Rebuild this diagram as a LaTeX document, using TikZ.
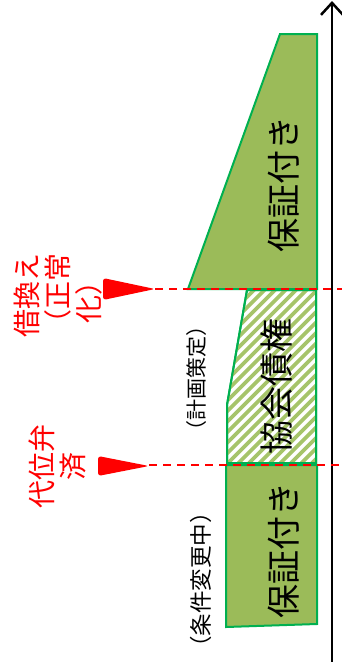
\documentclass[tikz,border=0pt]{standalone}
\usepackage{fontspec}
\newfontfamily\jp{Noto Sans CJK JP}
\usetikzlibrary{arrows.meta}
\definecolor{olivefill}{HTML}{9BBB59}
\definecolor{hatchgreen}{HTML}{A6C46A}
\definecolor{edgegreen}{HTML}{00B050}
\definecolor{markred}{HTML}{FF0000}
\tikzset{
  block/.style={fill=olivefill, draw=edgegreen, line width=2pt, line join=miter},
  hatchbox/.style={fill=white, draw=edgegreen, line width=2pt},
  bigtext/.style={rotate=90, inner sep=0pt, font=\jp\fontsize{34}{40}\selectfont},
  notetext/.style={rotate=90, inner sep=0pt, font=\jp\fontsize{21}{24}\selectfont},
  redtext/.style={rotate=90, inner sep=0pt, align=center, text=markred, font=\jp\fontsize{28}{31}\selectfont},
  reddash/.style={draw=markred, line width=2pt, dash pattern=on 8pt off 6pt},
  redtri/.style={fill=markred, rounded corners=3pt},
  axisline/.style={line width=2.5pt, -{Straight Barb[length=12pt,width=22pt,line width=2.5pt]}}
}
\begin{document}
\begin{tikzpicture}[x=1pt,y=-1pt]
\useasboundingbox (0,0) rectangle (342,662);
% top trapezoid
\draw[block] (280,34) -- (317,34) -- (317,289) -- (188,289) -- cycle;
% hatched block
\path[hatchbox] (247,290) -- (316,290) -- (316,463) -- (227,463) -- (227,405) -- cycle;
\begin{scope}
  \clip (247,290) -- (316,290) -- (316,463) -- (227,463) -- (227,405) -- cycle;
  \foreach \k in {0,...,30} {
    \draw[hatchgreen, line width=3.8pt] (60+\k*10.5,463) -- (234+\k*10.5,289);
  }
\end{scope}
\draw[edgegreen, line width=2pt] (247,290) -- (316,290) -- (316,463) -- (227,463) -- (227,405) -- cycle;
% bottom block
\draw[block] (226,465) -- (317,465) -- (317,624) -- (226,627) -- cycle;
% axis
\coordinate (axb) at (332,662);
\coordinate (axt) at (332,1);
\draw[axisline] (axb) -- (axt);
% markers
\coordinate (t1a) at (103,278);
\coordinate (t1b) at (103,300);
\coordinate (t1c) at (155,289);
\coordinate (d1) at (342,289);
\fill[redtri] (t1a) -- (t1c) -- (t1b) -- cycle;
\draw[reddash] (t1c) -- (d1);
\coordinate (t2a) at (98,456);
\coordinate (t2b) at (98,476);
\coordinate (t2c) at (149,466);
\coordinate (d2) at (342,465);
\fill[redtri] (t2a) -- (t2c) -- (t2b) -- cycle;
\draw[reddash] (149,465) -- (d2);
% texts
\node[bigtext] (g1) at (284,184) {保証付き};
\node[bigtext] (k1) at (277,386) {協会債権};
\node[bigtext] (g2) at (284,550) {保証付き};
\node[notetext] (n1) at (197,378) {（計画策定）};
\node[notetext, font=\jp\fontsize{22.5}{26}\selectfont] (n2) at (201,580) {（条件変更中）};
\node[redtext] (r1) at (58,295) {借換え\\（正常\\化）};
\node[redtext] (r2) at (57,466) {代位弁\\済};
\end{tikzpicture}
\end{document}
